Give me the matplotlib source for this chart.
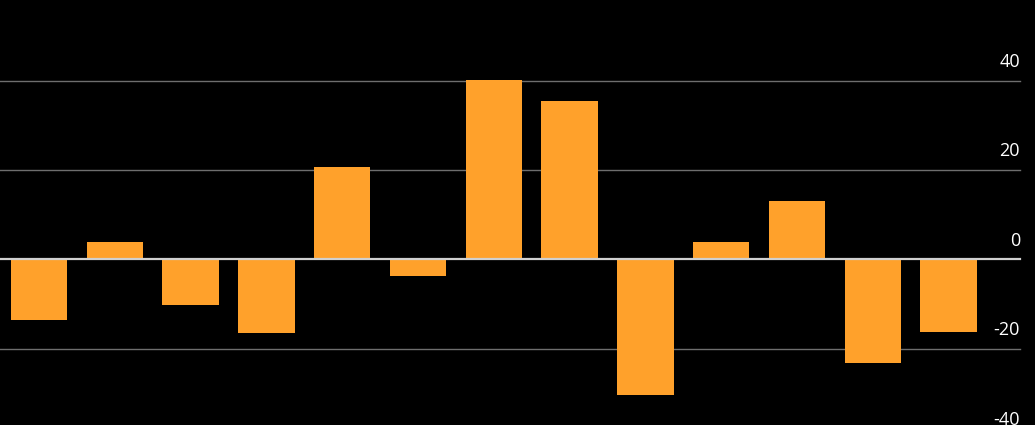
import matplotlib
matplotlib.use("Agg")
import matplotlib.pyplot as plt

values = [-13.5, 4.0, -10.2, -16.4, 20.7, -3.6, 40.1, 35.4, -30.4, 3.9, 13.1, -23.1, -16.1]
tick_values = [40, 20, 0, -20, -40]
tick_labels = ["40", "20", "0", "-20", "-40"]

bar_color = "#FFA12B"
fig = plt.figure(figsize=(10.35, 4.25), dpi=100, facecolor="black")
ax = fig.add_axes([0, 0, 1, 1], facecolor="black")

x = list(range(len(values)))
ax.set_xlim(-0.514, 13.14)
ax.set_ylim(-37, 58)

line_end = 1020 / 1035
for v, lab in zip(tick_values, tick_labels):
    col = "#d0d0d0" if v == 0 else "#6e6e6e"
    lw = 1.6 if v == 0 else 1.0
    ax.axhline(v, xmin=0, xmax=line_end, color=col, lw=lw, zorder=3 if v == 0 else 1)
    ax.text(line_end, v + 2.2, lab, transform=ax.get_yaxis_transform(),
            ha="right", va="bottom", color="white", fontsize=13,
            family=["Open Sans", "DejaVu Sans"], clip_on=False)

ax.bar(x, values, width=0.745, color=bar_color, zorder=2)

for s in ax.spines.values():
    s.set_visible(False)
ax.set_xticks([])
ax.set_yticks([])

fig.savefig("out.png", dpi=100, facecolor="black")
